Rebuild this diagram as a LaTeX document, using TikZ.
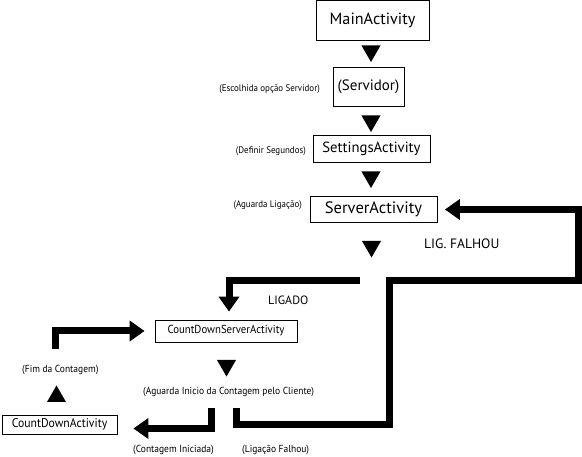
\documentclass[tikz,border=0pt]{standalone}
\usepackage{fontspec}
\setmainfont{PT Sans}
\newfontfamily\narrowfont{PT Sans}[FakeStretch=0.94]
\newfontfamily\midfont{PT Sans}[FakeStretch=0.93]
\usetikzlibrary{arrows.meta,shapes.geometric}
\begin{document}
\begin{tikzpicture}[x=1pt,y=-1pt,
  box/.style={draw,line width=0.8pt,inner sep=0pt,rectangle},
  bigtxt/.style={font=\fontsize{16.2}{18}\selectfont},
  servtxt/.style={font=\fontsize{15}{17}\selectfont},
  medtxt/.style={font=\fontsize{14.7}{16}\selectfont},
  srvtxt/.style={font=\fontsize{16.5}{18}\selectfont},
  smalltxt/.style={font=\midfont\fontsize{11.6}{13}\selectfont},
  cdatxt/.style={font=\midfont\fontsize{12.6}{14}\selectfont},
  lbl/.style={inner sep=0pt,font=\narrowfont\fontsize{9.5}{11}\selectfont},
  lbl2/.style={inner sep=0pt,font=\midfont\fontsize{10.2}{12}\selectfont},
  captxt/.style={inner sep=0pt,font=\fontsize{13.6}{15}\selectfont},
  captxtb/.style={inner sep=0pt,font=\fontsize{12}{14}\selectfont},
  tridown/.style={fill,draw=none,regular polygon,regular polygon sides=3,minimum size=22pt,inner sep=0pt,shape border rotate=180},
  triup/.style={fill,draw=none,regular polygon,regular polygon sides=3,minimum size=22pt,inner sep=0pt},
  flow/.style={line width=7pt,line join=miter,-{Triangle[width=20pt,length=15pt]}}
]
\useasboundingbox (0,0) rectangle (582,457);

% boxes
\node[box,bigtxt,minimum width=113pt,minimum height=40pt] (main) at (372.5,20.8) {MainActivity};
\node[box,servtxt,minimum width=71pt,minimum height=39pt] (serv) at (368.5,86.5) {(Servidor)};
\node[box,medtxt,minimum width=117pt,minimum height=27pt] (sett) at (371.5,148.5) {SettingsActivity};
\node[box,srvtxt,minimum width=127pt,minimum height=26pt] (srv) at (373.5,209.5) {ServerActivity};
\node[box,smalltxt,minimum width=142pt,minimum height=22pt] (cds) at (226,331) {CountDownServerActivity};
\node[box,cdatxt,minimum width=115pt,minimum height=19pt] (cda) at (59.5,424.5) {CountDownActivity};

% triangles
\node[tridown] (t1) at (371,51) {};
\node[tridown] (t2) at (371,121) {};
\node[tridown] (t3) at (371,177) {};
\node[tridown] (t4) at (371.5,246.5) {};
\node[tridown] (t5) at (226.5,365.5) {};
\node[triup] (t6) at (56.5,396.5) {};

% labels
\node[lbl,anchor=east] (lesc) at (320,89) {(Escolhida opção Servidor)};
\node[lbl,anchor=east] (ldef) at (306,151) {(Definir Segundos)};
\node[lbl,anchor=east] (lagu) at (302,205) {(Aguarda Ligação)};
\node[captxt,anchor=west] (lfal) at (424,243.5) {LIG. FALHOU};
\node[captxtb,anchor=west] (llig) at (268,300.5) {LIGADO};
\node[lbl2,anchor=west] (lfim) at (22,370) {(Fim da Contagem)};
\node[lbl2,anchor=west] (lini) at (143,392) {(Aguarda Inicio da Contagem pelo Cliente)};
\node[lbl2,anchor=west] (lcin) at (133,450) {(Contagem Iniciada)};
\node[lbl2,anchor=west] (llfa) at (242,450) {(Ligação Falhou)};

% connectors
\coordinate (lf0) at (236,408);
\coordinate (lg0) at (360,281);
\coordinate (fm0) at (55.5,349);
\coordinate (ci0) at (211.5,408);

\draw[flow,shorten >=7.5pt] (lf0) -- (236,424.5) -- (389,424.5) -- (389,281) -- (578,281) |- (srv.east);
\draw[flow,shorten >=8pt] (lg0) -| ([xshift=3pt]cds.north);
\draw[flow,shorten >=10pt] (fm0) |- (cds.west);
\draw[flow,shorten >=16pt] (ci0) |- ([yshift=-4pt]cda.east);
\end{tikzpicture}
\end{document}
